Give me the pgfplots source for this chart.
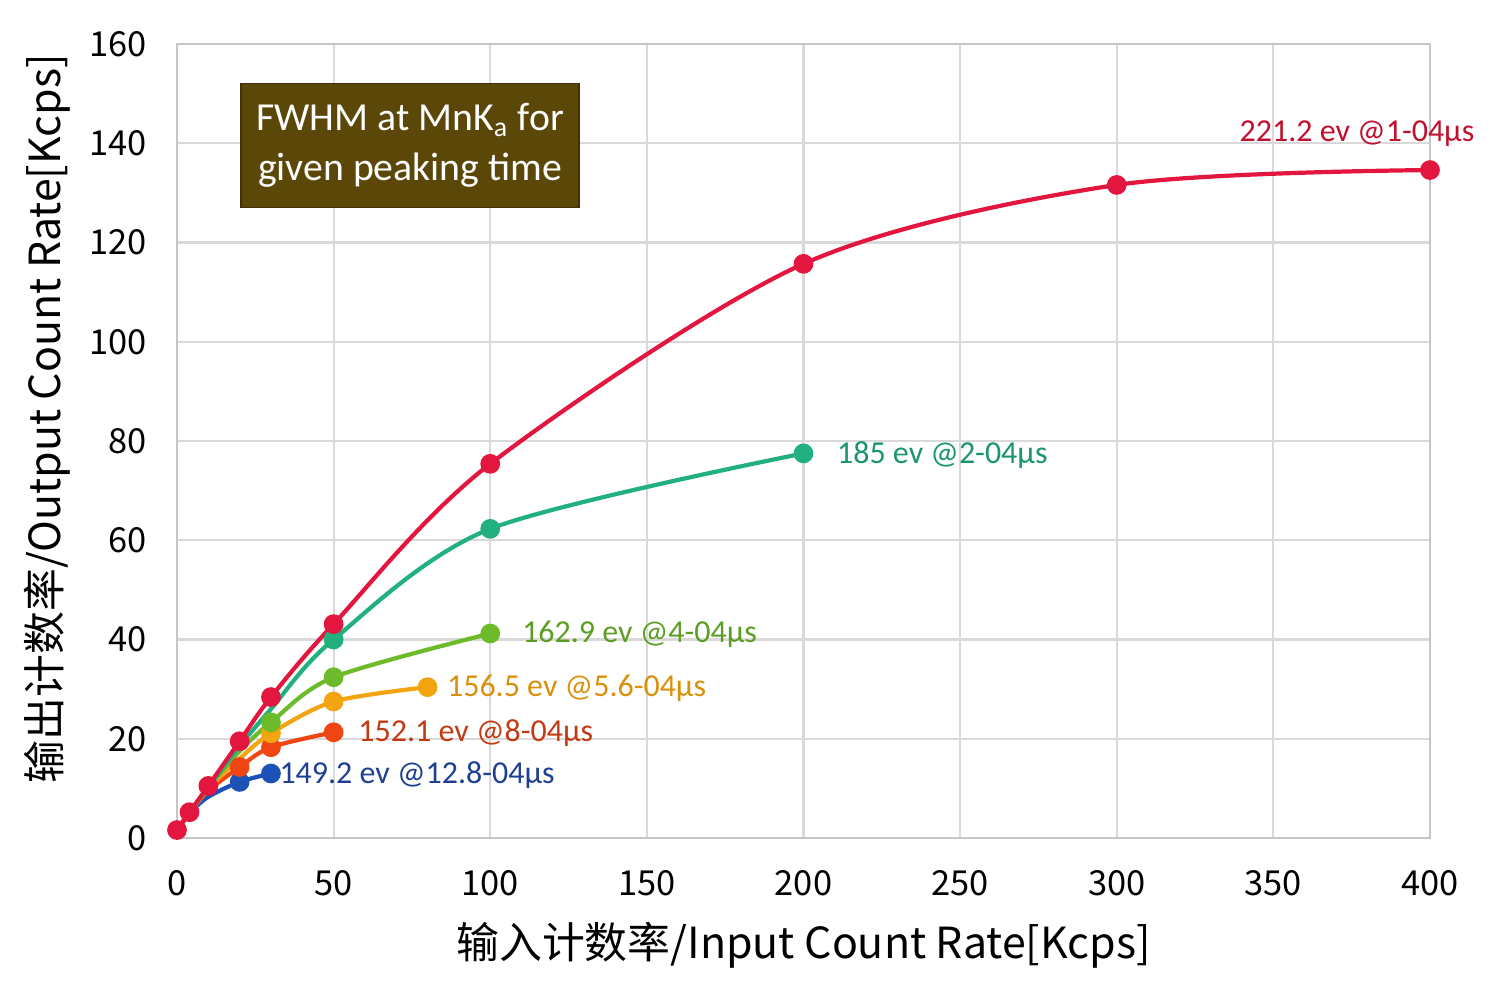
\documentclass[border=0pt]{standalone}
\usepackage{pgfplots}
\pgfplotsset{compat=1.18}
\usepackage{fontspec}
\setmainfont{Carlito}
\newfontfamily\cjk{Noto Sans CJK SC}
\definecolor{cred}{HTML}{E3163F}
\definecolor{cteal}{HTML}{22B07F}
\definecolor{cgreen}{HTML}{6DBA2A}
\definecolor{corange}{HTML}{F2A510}
\definecolor{cro}{HTML}{EE4512}
\definecolor{cblue}{HTML}{1C52B8}
\definecolor{lred}{HTML}{C0102E}
\definecolor{lteal}{HTML}{1A9668}
\definecolor{lgreen}{HTML}{5C9E22}
\definecolor{lorange}{HTML}{D9900A}
\definecolor{lro}{HTML}{C23A12}
\definecolor{lblue}{HTML}{1E3F92}
\definecolor{boxc}{HTML}{5B4808}
\begin{document}
\begin{tikzpicture}
\useasboundingbox (-17.7mm,-14.6mm) rectangle (132.3mm,83.8mm);
\begin{axis}[
  scale only axis,
  width=125.3mm, height=79.4mm,
  xmin=0, xmax=400, ymin=0, ymax=160,
  xtick={0,50,...,400}, ytick={0,20,...,160},
  grid=major,
  grid style={draw=gray!30, line width=0.6pt},
  axis line style={draw=gray!45, line width=0.8pt},
  tick style={draw=none},
  tick label style={font=\cjk\fontsize{9.8}{11}\selectfont},
  /pgf/number format/assume math mode=true,
  xticklabel style={yshift=-2.0mm},
  yticklabel style={xshift=-1.8mm},
  xlabel={\cjk\fontsize{12.2}{14}\selectfont 输入计数率/Input Count Rate[Kcps]},
  ylabel={\cjk\fontsize{12.2}{14}\selectfont 输出计数率/Output Count Rate[Kcps]},
  xlabel style={at={(axis description cs:0.5,0)}, anchor=center, yshift=-10.7mm},
  ylabel style={at={(axis description cs:0,0.528)}, anchor=center, xshift=0mm, yshift=13.0mm},
  clip=false,
  every axis plot/.append style={line width=1.2pt, smooth, tension=0.5, mark=*, mark size=2.2pt},
]
% blue 149.2
\addplot[cblue, mark options={fill=cblue, draw=cblue}, mark indices={4,5}] coordinates {(0,1.6) (4,5) (10,8.3) (20,11.3) (30,13.0)};
% red-orange 152.1
\addplot[cro, mark options={fill=cro, draw=cro}, mark indices={4,5,6}] coordinates {(0,1.6) (4,5) (10,9.5) (20,14.3) (30,18.3) (50,21.3)};
% orange 156.5
\addplot[corange, mark options={fill=corange, draw=corange}, mark indices={5,6,7}] coordinates {(0,1.6) (4,5) (10,10) (20,16) (30,21.1) (50,27.5) (80,30.4)};
% green 162.9
\addplot[cgreen, mark options={fill=cgreen, draw=cgreen}, mark indices={5,6,7}] coordinates {(0,1.6) (4,5) (10,10.2) (20,17.5) (30,23.3) (50,32.4) (100,41.2)};
% teal 185
\addplot[cteal, mark options={fill=cteal, draw=cteal}, mark indices={6,7,8}] coordinates {(0,1.6) (4,5) (10,10.3) (20,18.5) (30,26) (50,40) (100,62.3) (200,77.5)};
% red 221.2
\addplot[cred, mark options={fill=cred, draw=cred}] coordinates {(0,1.6) (4,5.2) (10,10.5) (20,19.5) (30,28.4) (50,43.1) (100,75.4) (200,115.7) (300,131.6) (400,134.6)};

\node[anchor=west, text=lred, font=\fontsize{9.1}{11}\selectfont, inner sep=0pt] at (axis cs:339,142) {221.2 ev @1-04µs};
\node[anchor=west, text=lteal, font=\fontsize{9.1}{11}\selectfont, inner sep=0pt] at (axis cs:210.5,77.2) {185 ev @2-04µs};
\node[anchor=west, text=lgreen, font=\fontsize{9.1}{11}\selectfont, inner sep=0pt] at (axis cs:110,41.1) {162.9 ev @4-04µs};
\node[anchor=west, text=lorange, font=\fontsize{9.1}{11}\selectfont, inner sep=0pt] at (axis cs:86,30.2) {156.5 ev @5.6-04µs};
\node[anchor=west, text=lro, font=\fontsize{9.1}{11}\selectfont, inner sep=0pt] at (axis cs:57.7,21.2) {152.1 ev @8-04µs};
\node[anchor=west, text=lblue, font=\fontsize{9.1}{11}\selectfont, inner sep=0pt] at (axis cs:32.5,12.7) {149.2 ev @12.8-04µs};

\node[fill=boxc, draw=boxc!70!black, text=white, minimum width=33.8mm, minimum height=12.4mm, align=center,
  font=\fontsize{11.3}{14}\selectfont, inner sep=1mm] at (axis cs:74.4,139.6)
  {FWHM at MnK\textsubscript{a} for\\given peaking time};
\end{axis}
\end{tikzpicture}
\end{document}
